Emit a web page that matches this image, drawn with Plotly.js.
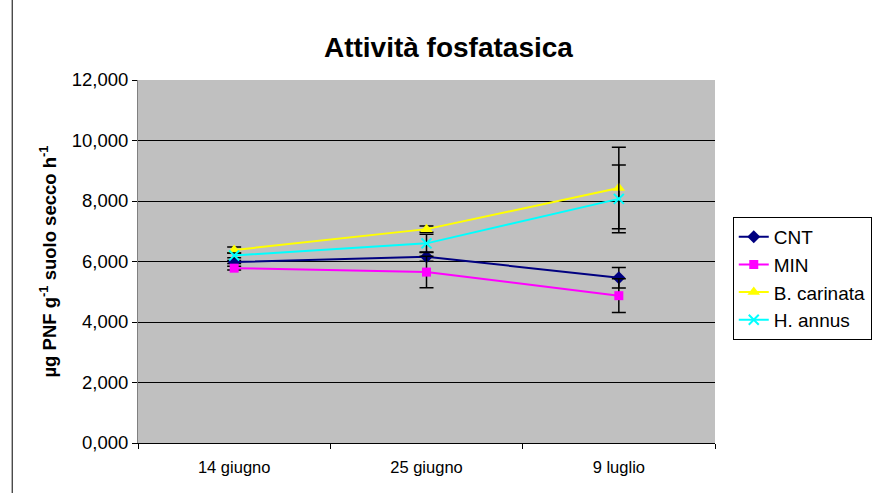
<!DOCTYPE html>
<html>
<head>
<meta charset="utf-8">
<script src="https://cdn.plot.ly/plotly-3.0.1.min.js"></script>
<style>html,body{margin:0;padding:0;background:#fff;}#chart{width:883px;height:493px;}</style>
</head>
<body>
<div id="chart"></div>
<script>
const dates = ["14 giugno", "25 giugno", "9 luglio"];
const cnt = [5.98, 6.16, 5.46];
const cntErr = [0.05, 0.15, 0.34];
const minV = [5.78, 5.65, 4.87];
const minErr = [0.06, 0.52, 0.56];
const carinata = [6.38, 7.07, 8.43];
const carinataErr = [0.1, 0.1, 1.35];
const annus = [6.2, 6.6, 8.07];
const annusErr = [0.08, 0.3, 1.12];
const yTicks = [0, 2, 4, 6, 8, 10, 12];

function tr(name, y, err, color, symbol, size) {
  return {
    type: "scatter", mode: "lines+markers", name: name, x: dates, y: y,
    legendgroup: name,
    line: {color: color, width: 2},
    marker: {color: color, symbol: symbol, size: size, line: {color: color, width: symbol.indexOf("x") === 0 ? 2 : 0}},
    error_y: {type: "data", array: err, visible: true, color: "#000", thickness: 1.5, width: 7}
  };
}
const data = [
  tr("CNT", cnt, cntErr, "#000080", "diamond", 10),
  tr("MIN", minV, minErr, "#FF00FF", "square", 9),
  tr("B. carinata", carinata, carinataErr, "#FFFF00", "triangle-up", 11),
  tr("H. annus", annus, annusErr, "#00FFFF", "x-thin", 10)
];
const layout = {
  width: 883, height: 493,
  margin: {l: 138, r: 167, t: 80, b: 50},
  paper_bgcolor: "#FFFFFF", plot_bgcolor: "#C0C0C0",
  separators: ",.",
  font: {family: "Liberation Sans, Arial, sans-serif", size: 16, color: "#000"},
  title: {text: "<b>Attività fosfatasica</b>", font: {size: 28, color: "#000"},
    x: 0.538, xref: "paper", xanchor: "center", y: 0.905, yref: "container", yanchor: "middle"},
  xaxis: {type: "category", range: [-0.5, 2.5], showgrid: false, zeroline: false,
    showline: true, linecolor: "#000", linewidth: 1, ticks: "outside", ticklen: 5, tickcolor: "#000",
    tickson: "boundaries", tickfont: {size: 16.5}, ticklabelstandoff: 9},
  yaxis: {range: [0, 12], tickvals: yTicks, tickformat: ".3f", showgrid: true, gridcolor: "#000", gridwidth: 1,
    zeroline: false, showline: true, linecolor: "#808080", linewidth: 1, ticks: "outside", ticklen: 5, tickcolor: "#000",
    tickfont: {size: 18.5},
    title: {text: "<b>µg PNF g<sup>-1</sup> suolo secco h<sup>-1</sup></b>", font: {size: 18.5}, standoff: 10}},
  legend: {x: 1.029, xanchor: "left", y: 0.623, yanchor: "top", bgcolor: "#FFFFFF", bordercolor: "#000", borderwidth: 1,
    font: {size: 19}, tracegroupgap: 8, traceorder: "normal"},
  shapes: [{type: "line", xref: "paper", yref: "paper", x0: -0.2180, x1: -0.2180, y0: -0.14, y1: 1.23, line: {color: "#000", width: 1}}]
};
Plotly.newPlot("chart", data, layout, {staticPlot: true, displayModeBar: false});
</script>
</body>
</html>
